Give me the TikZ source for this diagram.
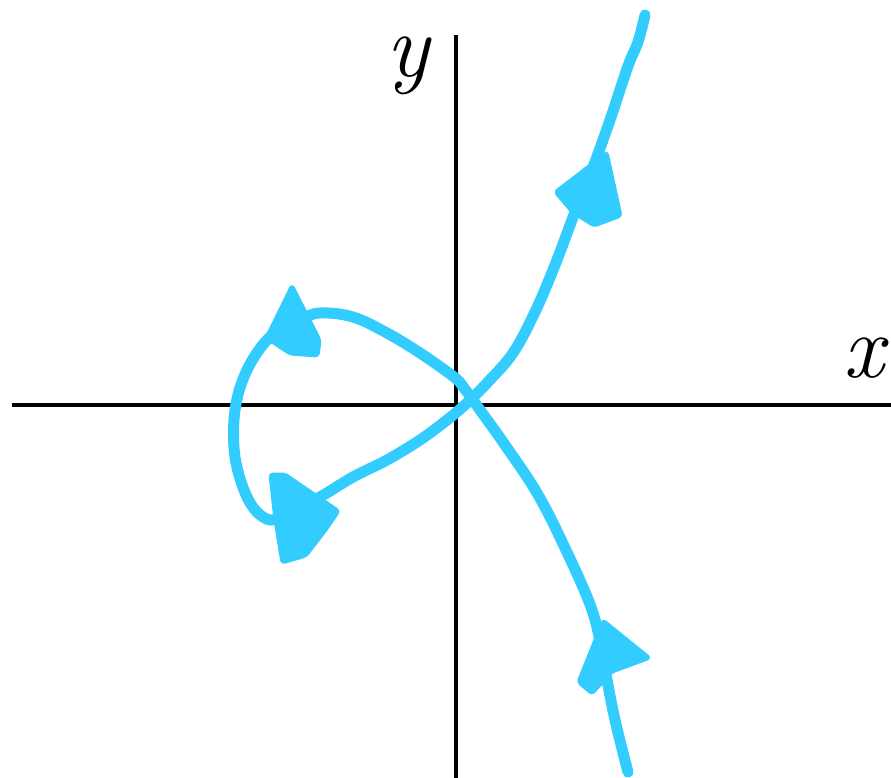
\documentclass[tikz,border=0pt]{standalone}
\usepackage{tikz}
\definecolor{FlowBlue}{RGB}{51, 204, 255}

\begin{document}
\begin{tikzpicture}[
    x=1pt, y=-1pt,
    axis/.style={line width=4pt, black},
    flow/.style={line width=11pt, FlowBlue, line cap=round, line join=round},
    head/.style={fill=FlowBlue, draw=FlowBlue, line width=3pt, line join=round, rounded corners=3pt},
    label/.style={font=\fontsize{90}{90}\selectfont\itshape, inner sep=0pt}
  ]
    \useasboundingbox (0,0) rectangle (891,778);

    % Axes
    \coordinate (xl) at (12,405);
    \coordinate (xr) at (891,405);
    \coordinate (yb) at (456,778);
    \coordinate (yt) at (456,35);
    \draw[axis] (xl) -- (xr);
    \draw[axis] (yb) -- (yt);

    % Labels
    \node[label] (ylab) at (408,66) {y};
    \node[label] (xlab) at (864,358) {x};

    % Trajectory
    \draw[flow] plot[smooth, tension=0.6] coordinates {
        (628,772) (615,720) (605,670) (593,613) (565,548) (537,493)
        (505,445) (480,410) (464,388) (454,377)
        (420,353) (387,333) (353,317) (320,313) (300,320) (270,337)
        (247,370) (235,410) (235,457) (247,497) (263,517) (280,518)
        (320,497) (353,477) (387,460) (420,440) (447,420) (467,403)
        (487,383) (513,353) (535,312) (555,265) (575,212) (592,170)
        (610,120) (628,66) (638,42) (645,15)};

    % Arrowheads
    \filldraw[head] (603,620) -- (650,658) -- (612,672) -- (592,694) -- (578,682) -- cycle;
    \filldraw[head] (607,152) -- (621,216) -- (594,226) -- (572,212) -- (555,192) -- cycle;
    \filldraw[head] (292,285) -- (320,340) -- (318,356) -- (290,354) -- (266,338) -- cycle;
    \filldraw[head] (339,511) -- (326,530) -- (306,556) -- (282,563) -- (275,520) -- (270,474) -- (285,474) -- cycle;
\end{tikzpicture}
\end{document}
